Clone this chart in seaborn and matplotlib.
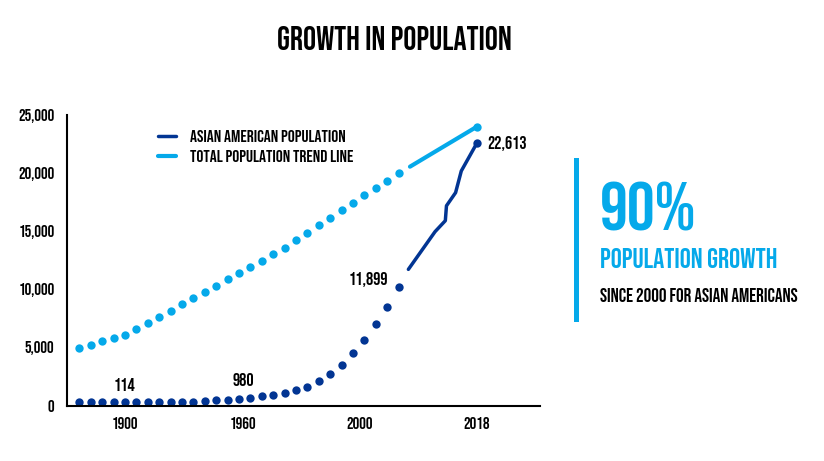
import seaborn as sns
import matplotlib.pyplot as plt
from matplotlib.patches import Rectangle

# dot positions (evenly spaced steps) and values
dot_pos = list(range(29))
asian_dots = [280, 280, 280, 280, 280, 280, 280, 280, 280, 310, 340, 395, 455, 510, 570,
              680, 800, 910, 1050, 1310, 1620, 2090, 2690, 3510, 4520, 5660, 6980, 8470, 10160]
total_dots = [4920, 5200, 5520, 5810, 6090, 6550, 7070, 7580, 8120, 8700, 9220, 9760, 10300,
              10830, 11360, 11900, 12440, 12990, 13560, 14200, 14850, 15480, 16110, 16770,
              17400, 18060, 18660, 19310, 19980]

# solid segments after the dotted part
asian_line_pos = [28.86, 31.2, 32.1, 32.2, 33.0, 33.5, 34.86]
asian_line_vals = [11700, 14940, 15880, 17160, 18290, 20150, 22530]
total_line_pos = [29.0, 34.86]
total_line_vals = [20520, 23950]

tick_pos = [4, 14.35, 24.6, 34.86]
tick_labels = ["1900", "1960", "2000", "2018"]

navy = "#023593"
sky = "#05a9ea"

sns.set_style("white")
plt.rcParams['font.family'] = ['Bebas Neue', 'Oswald', 'League Gothic', 'Roboto Condensed',
                               'Liberation Sans Narrow', 'DejaVu Sans']
plt.rcParams['text.color'] = 'black'

fig = plt.figure(figsize=(8.24, 4.61), dpi=100)
ax = fig.add_axes([0.0813, 0.1202, 0.574, 0.6314])

sns.scatterplot(x=dot_pos, y=total_dots, color=sky, s=36, linewidth=0, ax=ax)
sns.scatterplot(x=dot_pos, y=asian_dots, color=navy, s=36, linewidth=0, ax=ax)
sns.lineplot(x=total_line_pos, y=total_line_vals, color=sky, linewidth=3,
             label="TOTAL POPULATION TREND LINE", ax=ax)
sns.lineplot(x=asian_line_pos, y=asian_line_vals, color=navy, linewidth=2.5,
             label="ASIAN AMERICAN POPULATION", ax=ax, sort=False)
sns.scatterplot(x=[total_line_pos[-1]], y=[total_line_vals[-1]], color=sky, s=36, linewidth=0, ax=ax)
sns.scatterplot(x=[asian_line_pos[-1]], y=[asian_line_vals[-1]], color=navy, s=36, linewidth=0, ax=ax)

ax.set_xlim(-1.08, 40.4)
ax.set_ylim(0, 25000)
ax.set_xticks(tick_pos)
ax.set_xticklabels(tick_labels)
ax.set_yticks([0, 5000, 10000, 15000, 20000, 25000])
ax.set_yticklabels(["0", "5,000", "10,000", "15,000", "20,000", "25,000"])
ax.tick_params(axis="both", length=0, labelsize=12, colors="black")
ax.tick_params(axis="y", pad=9)
ax.tick_params(axis="x", pad=8)
for side in ["top", "right"]:
    ax.spines[side].set_visible(False)
for side in ["left", "bottom"]:
    ax.spines[side].set_color("black")
    ax.spines[side].set_linewidth(1.5)

handles, labels = ax.get_legend_handles_labels()
ax.legend(handles[::-1], labels[::-1], loc="upper left", bbox_to_anchor=(0.16, 1.0),
          frameon=False, fontsize=12.5, handlelength=1.0, handletextpad=0.8, labelspacing=0.45)

ax.text(4, 1850, "114", ha="center", va="center", fontsize=13)
ax.text(14.35, 2200, "980", ha="center", va="center", fontsize=13)
ax.text(27.1, 10800, "11,899", ha="right", va="center", fontsize=13)
ax.text(35.75, 22550, "22,613", ha="left", va="center", fontsize=13)

fig.text(0.479, 0.918, "GROWTH IN POPULATION", ha="center", va="center", fontsize=23.5)

fig.add_artist(Rectangle((574 / 824, 1 - 322 / 461), 5 / 824, 164 / 461,
                         transform=fig.transFigure, color=sky, linewidth=0))
fig.text(600 / 824, 1 - 206 / 461, "90%", ha="left", va="center", color=sky, fontsize=50)
fig.text(600 / 824, 1 - 258 / 461, "POPULATION GROWTH", ha="left", va="center", color=sky,
         fontsize=20)
fig.text(600 / 824, 1 - 295 / 461, "SINCE 2000 FOR ASIAN AMERICANS", ha="left", va="center",
         color="black", fontsize=13.8)

fig.savefig("out.png", dpi=100)
